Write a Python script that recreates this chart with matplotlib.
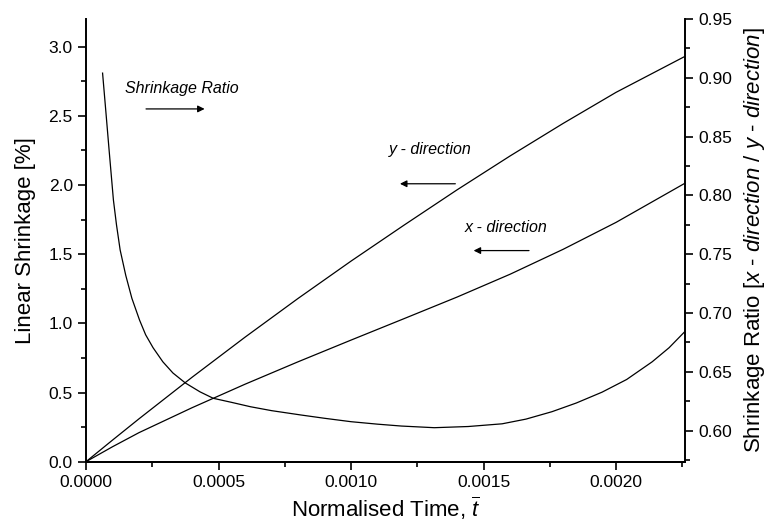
import numpy as np
import matplotlib
matplotlib.use("Agg")
import matplotlib.pyplot as plt
from matplotlib.ticker import MultipleLocator, FormatStrFormatter

plt.rcParams['font.family'] = ['Liberation Sans', 'DejaVu Sans']
plt.rcParams['mathtext.fontset'] = 'custom'
plt.rcParams['mathtext.rm'] = 'Liberation Sans'
plt.rcParams['mathtext.it'] = 'Liberation Sans:italic'

# 線形収縮 (左軸)
time = [0, 0.0001, 0.0002, 0.0004, 0.0006, 0.0008, 0.0010, 0.0012, 0.0014,
        0.0016, 0.0018, 0.0020, 0.00226]
shrink_y = [0, 0.156, 0.31, 0.61, 0.90, 1.18, 1.45, 1.71, 1.965, 2.21, 2.445,
            2.67, 2.93]
shrink_x = [0, 0.108, 0.21, 0.39, 0.56, 0.722, 0.879, 1.034, 1.19, 1.355,
            1.535, 1.73, 2.013]

# 収縮比 (右軸)
time_ratio = [0.0000625, 0.000075, 0.0000871, 0.0001034, 0.000115, 0.0001288,
              0.00015, 0.0001731, 0.000202, 0.000225, 0.000253, 0.00029,
              0.000328, 0.000375, 0.00043, 0.00048, 0.00055, 0.000621, 0.0007,
              0.000811, 0.0009, 0.001, 0.0011, 0.00119, 0.001314, 0.001442,
              0.00157, 0.00166, 0.001758, 0.00185, 0.001947, 0.00204,
              0.002136, 0.0022, 0.002265]
ratio = [0.904, 0.871, 0.8386, 0.7961, 0.775, 0.7536, 0.732, 0.7125, 0.694,
         0.6815, 0.6705, 0.6585, 0.649, 0.6405, 0.633, 0.6275, 0.624, 0.6203,
         0.617, 0.6133, 0.6105, 0.6076, 0.6055, 0.6039, 0.6025, 0.6035,
         0.6058, 0.6098, 0.6161, 0.6235, 0.6327, 0.6435, 0.6585, 0.6705,
         0.6855]

fig, ax = plt.subplots(figsize=(7.7, 5.28), dpi=100)
fig.subplots_adjust(left=0.1117, right=0.8896, bottom=0.1256, top=0.964)
ax2 = ax.twinx()

ax.plot(time, shrink_y, color='black', lw=0.9)
ax.plot(time, shrink_x, color='black', lw=0.9)
ax2.plot(time_ratio, ratio, color='black', lw=0.9)

ax.set_xlim(0, 0.00226)
ax.set_ylim(0, 3.2)
ax2.set_ylim(0.5736, 0.95)

ax.xaxis.set_major_locator(MultipleLocator(0.0005))
ax.xaxis.set_minor_locator(MultipleLocator(0.00025))
ax.xaxis.set_major_formatter(FormatStrFormatter('%.4f'))
ax.yaxis.set_major_locator(MultipleLocator(0.5))
ax.yaxis.set_minor_locator(MultipleLocator(0.25))
ax.yaxis.set_major_formatter(FormatStrFormatter('%.1f'))
ax2.yaxis.set_major_locator(MultipleLocator(0.05))
ax2.yaxis.set_minor_locator(MultipleLocator(0.025))
ax2.yaxis.set_major_formatter(FormatStrFormatter('%.2f'))

for a in (ax, ax2):
    a.spines['top'].set_visible(False)
    for s in a.spines.values():
        s.set_linewidth(1.4)
    a.tick_params(which='major', direction='out', length=6, width=1.2,
                  labelsize=12.5)
    a.tick_params(which='minor', direction='out', length=3.5, width=1.2)
ax.spines['right'].set_visible(False)
ax2.spines['left'].set_visible(False)

ax.set_xlabel(r'Normalised Time, $\overline{t}$', fontsize=16, labelpad=3)
ax.set_ylabel('Linear Shrinkage [%]', fontsize=16, labelpad=9)
ax2.set_ylabel(r'Shrinkage Ratio [$\mathit{x\ \text{-}\ direction\ /\ y\ \text{-}\ direction}$]',
               fontsize=16, labelpad=7)

# 注記と矢印
ax.text(0.00036, 2.70, 'Shrinkage Ratio', style='italic', fontsize=11.5,
        ha='center', va='center')
ax.annotate('', xy=(0.000458, 2.55), xytext=(0.000216, 2.55),
            arrowprops=dict(arrowstyle='-|>', color='black', lw=0.9,
                            mutation_scale=10))
ax.text(0.0013, 2.26, 'y - direction', style='italic', fontsize=11.5,
        ha='center', va='center')
ax.annotate('', xy=(0.001174, 2.009), xytext=(0.001404, 2.009),
            arrowprops=dict(arrowstyle='-|>', color='black', lw=0.9,
                            mutation_scale=10))
ax.text(0.001586, 1.69, 'x - direction', style='italic', fontsize=11.5,
        ha='center', va='center')
ax.annotate('', xy=(0.001452, 1.526), xytext=(0.001682, 1.526),
            arrowprops=dict(arrowstyle='-|>', color='black', lw=0.9,
                            mutation_scale=10))

fig.savefig('out.png', dpi=100)
